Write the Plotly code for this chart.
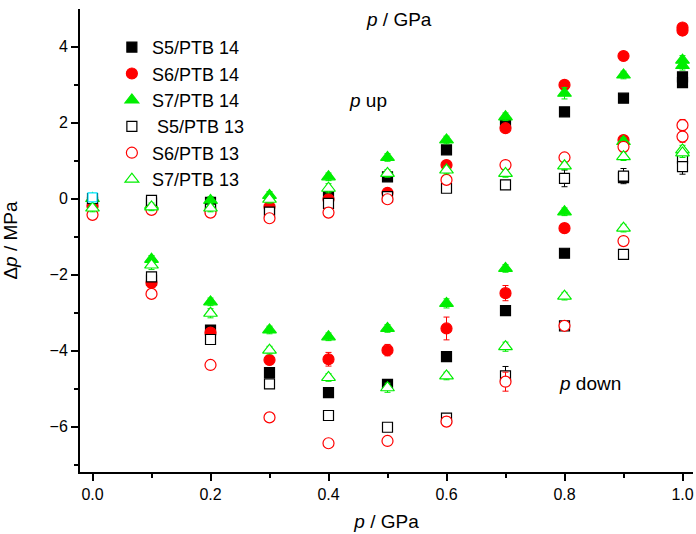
import plotly.graph_objects as go

# pressure steps
x_up = [0.0, 0.1, 0.2, 0.3, 0.4, 0.5, 0.6, 0.7, 0.8, 0.9, 1.0]
x_down = [1.0, 0.9, 0.8, 0.7, 0.6, 0.5, 0.4, 0.3, 0.2, 0.1]

# Δp / MPa, up branch (0 -> 1 GPa) and down branch (1 -> 0.1 GPa)
s5_14_up = [-0.10, -0.12, -0.10, -0.30, 0.09, 0.57, 1.28, 2.00, 2.28, 2.64, 3.20]
s5_14_down = [3.05, 0.55, -1.44, -2.95, -4.16, -4.89, -5.11, -4.58, -3.46, -2.15]
s6_14_up = [-0.20, -0.25, -0.30, -0.22, -0.02, 0.15, 0.88, 1.85, 2.99, 3.75, 4.50]
s6_14_down = [4.42, 1.54, -0.78, -2.49, -3.42, -3.99, -4.23, -4.25, -3.53, -2.22]
s7_14_up = [0.00, -0.18, -0.05, 0.08, 0.57, 1.08, 1.54, 2.15, 2.77, 3.25, 3.64]
s7_14_down = [3.50, 1.50, -0.35, -1.84, -2.76, -3.42, -3.64, -3.46, -2.72, -1.60]
s5_13_up = [0.00, -0.05, -0.28, -0.36, -0.13, 0.05, 0.27, 0.36, 0.53, 0.59, 1.06]
s5_13_down = [0.84, -1.47, -3.35, -4.67, -5.78, -6.02, -5.71, -4.88, -3.71, -2.06]
s6_13_up = [-0.43, -0.30, -0.37, -0.52, -0.37, -0.02, 0.49, 0.88, 1.08, 1.36, 1.93]
s6_13_down = [1.63, -1.12, -3.35, -4.82, -5.87, -6.38, -6.44, -5.76, -4.38, -2.51]
s7_13_up = [-0.25, -0.22, -0.25, -0.02, 0.27, 0.66, 0.75, 0.66, 0.86, 1.10, 1.28]
s7_13_down = [1.20, -0.78, -2.57, -3.90, -4.67, -4.98, -4.71, -3.99, -3.02, -1.75]

# uncertainties (MPa)
e5_14_up = [0.1] * 11
e5_14_down = [0.1] * 10
e6_14_up = [0.1] * 11
e6_14_down = [0.12, 0.1, 0.12, 0.2, 0.3, 0.15, 0.18, 0.1, 0.1, 0.1]
e7_14_up = [0.1, 0.1, 0.1, 0.1, 0.1, 0.1, 0.1, 0.1, 0.15, 0.1, 0.12]
e7_14_down = [0.12, 0.1, 0.1, 0.1, 0.12, 0.1, 0.1, 0.1, 0.1, 0.1]
e5_13_up = [0.1, 0.1, 0.1, 0.1, 0.1, 0.1, 0.1, 0.1, 0.22, 0.2, 0.2]
e5_13_down = [0.2, 0.1, 0.1, 0.25, 0.1, 0.1, 0.1, 0.1, 0.1, 0.1]
e6_13_up = [0.1, 0.1, 0.1, 0.1, 0.1, 0.1, 0.1, 0.1, 0.1, 0.12, 0.15]
e6_13_down = [0.15, 0.1, 0.1, 0.25, 0.12, 0.12, 0.1, 0.1, 0.1, 0.1]
e7_13_up = [0.1, 0.1, 0.1, 0.1, 0.12, 0.1, 0.1, 0.1, 0.1, 0.1, 0.12]
e7_13_down = [0.12, 0.1, 0.1, 0.12, 0.1, 0.12, 0.1, 0.1, 0.12, 0.12]

ref_x = [0.0]
ref_y = [0.03]

# name, up, down, err up, err down, symbol, colour, size, hollow
series = [
    ("S5/PTB 14", s5_14_up, s5_14_down, e5_14_up, e5_14_down, "square", "#000000", 10, False),
    ("S6/PTB 14", s6_14_up, s6_14_down, e6_14_up, e6_14_down, "circle", "#ff0000", 11, False),
    ("S7/PTB 14", s7_14_up, s7_14_down, e7_14_up, e7_14_down, "triangle-up", "#00ee00", 12, False),
    ("\u00a0S5/PTB 13", s5_13_up, s5_13_down, e5_13_up, e5_13_down, "square", "#000000", 10, True),
    ("S6/PTB 13", s6_13_up, s6_13_down, e6_13_up, e6_13_down, "circle", "#ff0000", 11, True),
    ("S7/PTB 13", s7_13_up, s7_13_down, e7_13_up, e7_13_down, "triangle-up", "#00ee00", 12, True),
]

fig = go.Figure()
for name, yu, yd, eu, ed, sym, col, sz, hollow in series:
    fig.add_trace(go.Scatter(
        x=x_up + x_down, y=yu + yd, mode="markers", name=name,
        marker=dict(symbol=sym, color="white" if hollow else col, size=sz,
                    line=dict(color=col, width=1.2)),
        error_y=dict(type="data", array=eu + ed, visible=True, color=col, thickness=1, width=3),
    ))

fig.add_trace(go.Scatter(
    x=ref_x, y=ref_y, mode="markers", showlegend=False,
    marker=dict(symbol="square", color="white", size=9, line=dict(color="#00e5ff", width=1.2)),
))

font = "Liberation Sans, Arial, sans-serif"
fig.update_layout(
    width=696, height=534,
    margin=dict(l=80, r=3, t=9, b=62),
    paper_bgcolor="white", plot_bgcolor="white",
    font=dict(family=font, size=16, color="black"),
    showlegend=True,
    legend=dict(x=0.052, y=0.957, xanchor="left", yanchor="top",
                font=dict(size=18), bgcolor="rgba(0,0,0,0)", itemwidth=30,
                tracegroupgap=0),
    xaxis=dict(range=[-0.0212, 1.0178], showgrid=False, zeroline=False,
               showline=True, linecolor="black", linewidth=2,
               ticks="outside", ticklen=7, tickwidth=1.5, tickcolor="black",
               tick0=0, dtick=0.2, tickformat=".1f",
               minor=dict(ticks="outside", ticklen=4, tickwidth=1.5, tickcolor="black", dtick=0.1, tick0=0),
               title=dict(text="<i>p</i> / GPa", font=dict(size=19), standoff=12),
               tickfont=dict(size=16)),
    yaxis=dict(range=[-7.197, 4.987], showgrid=False, zeroline=False,
               showline=True, linecolor="black", linewidth=2,
               ticks="outside", ticklen=7, tickwidth=1.5, tickcolor="black",
               tick0=0, dtick=2,
               minor=dict(ticks="outside", ticklen=4, tickwidth=1.5, tickcolor="black", dtick=1, tick0=0),
               title=dict(text="\u0394<i>p</i> / MPa", font=dict(size=19), standoff=27),
               tickfont=dict(size=16)),
    annotations=[
        dict(x=0.52, y=4.7, xref="x", yref="y", text="<i>p</i> / GPa", showarrow=False, font=dict(size=19)),
        dict(x=0.467, y=2.57, xref="x", yref="y", text="<i>p</i> up", showarrow=False, font=dict(size=19)),
        dict(x=0.843, y=-4.88, xref="x", yref="y", text="<i>p</i> down", showarrow=False, font=dict(size=19)),
    ],
)

fig.write_html("out.html")
